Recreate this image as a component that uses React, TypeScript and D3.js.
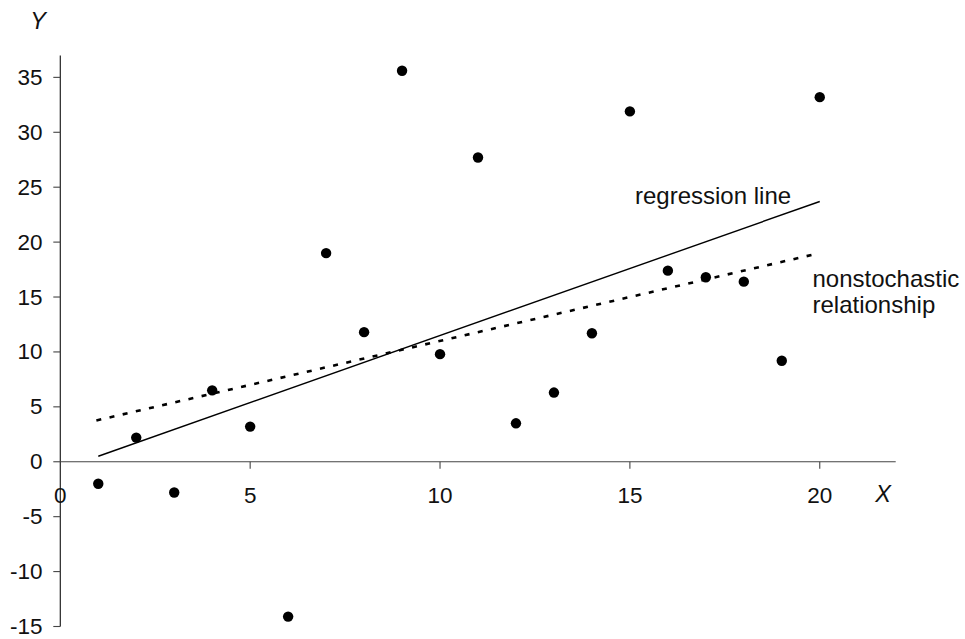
import React from "react";
import * as d3 from "d3";

const xValues = [1, 2, 3, 4, 5, 6, 7, 8, 9, 10, 11, 12, 13, 14, 15, 16, 17, 18, 19, 20];
const yValues = [-2.0, 2.2, -2.8, 6.5, 3.2, -14.1, 19.0, 11.8, 35.6, 9.8, 27.7, 3.5, 6.3, 11.7, 31.9, 17.4, 16.8, 16.4, 9.2, 33.2];
const regressionLine: [number, number][] = [[1, 0.5], [20, 23.7]];
const nonstochasticLine: [number, number][] = [[0.95, 3.76], [19.85, 18.88]];
const xTicks = [5, 10, 15, 20];
const xTickLabels = [0, 5, 10, 15, 20];
const yTicks = [-15, -10, -5, 0, 5, 10, 15, 20, 25, 30, 35];

const W = 965;
const H = 639;
const FONT = "'Liberation Sans', Arial, Helvetica, sans-serif";

export default function App() {
  const x = d3.scaleLinear().domain([0, 22]).range([60.3, 895.7]);
  const y = d3.scaleLinear().domain([-15, 37]).range([626.5, 55.4]);
  const line = d3
    .line<[number, number]>()
    .x((d) => x(d[0]))
    .y((d) => y(d[1]));

  const x0 = x(0);
  const y0 = y(0);

  return (
    <svg
      width={W}
      height={H}
      viewBox={`0 0 ${W} ${H}`}
      style={{ position: "absolute", left: 0, top: 0, background: "#fff" }}
      fontFamily={FONT}
    >
      <rect x={0} y={0} width={W} height={H} fill="#fff" />
      {/* axes */}
      <line x1={x0} x2={x0} y1={y(37)} y2={y(-15)} stroke="#222" strokeWidth={1.2} />
      <line x1={x0} x2={x(22)} y1={y0} y2={y0} stroke="#444" strokeWidth={1.2} />
      {yTicks.map((t) => (
        <g key={"yt" + t}>
          <line x1={x0 - 7} x2={x0} y1={y(t)} y2={y(t)} stroke="#444" strokeWidth={1.1} />
          <text
            x={42.5}
            y={y(t)}
            textAnchor="end"
            dominantBaseline="central"
            fontSize={22.5}
            fill="#111"
          >
            {t}
          </text>
        </g>
      ))}
      {xTicks.map((t) => (
        <line key={"xt" + t} x1={x(t)} x2={x(t)} y1={y0} y2={y0 + 7} stroke="#444" strokeWidth={1.1} />
      ))}
      {xTickLabels.map((t) => (
        <text
          key={"xl" + t}
          x={x(t)}
          y={495.5}
          textAnchor="middle"
          dominantBaseline="central"
          fontSize={22.5}
          fill="#111"
        >
          {t}
        </text>
      ))}
      <text x={883} y={494} textAnchor="middle" dominantBaseline="central" fontSize={23.5} fontStyle="italic" fill="#111">
        X
      </text>
      <text x={38} y={21} textAnchor="middle" dominantBaseline="central" fontSize={23.5} fontStyle="italic" fill="#111">
        Y
      </text>

      {/* lines */}
      <path d={line(regressionLine) || ""} fill="none" stroke="#000" strokeWidth={1.4} />
      <path
        d={line(nonstochasticLine) || ""}
        fill="none"
        stroke="#000"
        strokeWidth={2.6}
        strokeDasharray="5 8.5"
      />

      {/* points */}
      {xValues.map((xv, i) => (
        <circle key={"p" + i} cx={x(xv)} cy={y(yValues[i])} r={5.2} fill="#000" />
      ))}

      {/* annotations */}
      <text x={635} y={204} fontSize={24} fill="#111">
        regression line
      </text>
      <text x={812.5} y={286.5} fontSize={24} fill="#111">
        nonstochastic
      </text>
      <text x={812.5} y={313} fontSize={24} fill="#111">
        relationship
      </text>
    </svg>
  );
}
